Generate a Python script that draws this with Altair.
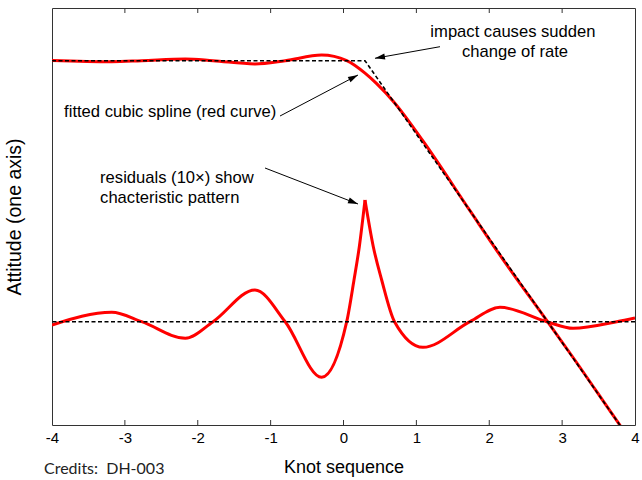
import altair as alt
import pandas as pd

# ---- data ----
# fitted cubic spline (red)
fit_x = [-4.0, -3.18, -2.77, -2.17, -1.79, -1.215, -0.80, -0.30, 0.044, 0.295, 0.455, 0.693, 1.09, 1.735, 2.147, 2.79, 3.15, 3.75, 4.0]
fit_y = [26.13, 26.0, 26.1, 26.27, 26.1, 25.78, 26.1, 26.66, 26.1, 24.85, 23.8, 21.95, 18.08, 11.1, 6.66, 0.1, -3.58, -9.9, -12.5]

# true attitude (dashed, with kink at impact)
true_x = [-4.0, 0.295, 4.0]
true_y = [26.1, 26.1, -12.5]

# residuals x10, left and right of the impact cusp
resL_x = [-4.0, -3.18, -2.77, -2.17, -1.79, -1.215, -0.80, -0.30, 0.044, 0.144, 0.217, 0.295]
resL_y = [-0.33, 0.94, 0.0, -1.66, 0.0, 3.17, 0.0, -5.56, 0.0, 4.17, 7.5, 12.17]
resR_x = [0.295, 0.409, 0.524, 0.70, 1.09, 1.735, 2.147, 2.79, 3.15, 3.75, 4.0]
resR_y = [12.17, 7.5, 4.17, 0.0, -2.56, 0.0, 1.44, 0.0, -0.66, 0.0, 0.38]

tick_vals = [-4, -3, -2, -1, 0, 1, 2, 3, 4]
inner_ticks = [-3, -2, -1, 0, 1, 2, 3]

fit_df = pd.DataFrame({"x": fit_x, "y": fit_y})
true_df = pd.DataFrame({"x": true_x, "y": true_y})
res_df = pd.concat([
    pd.DataFrame({"x": resL_x, "y": resL_y, "seg": "L"}),
    pd.DataFrame({"x": resR_x, "y": resR_y, "seg": "R"}),
])
tick_df = pd.DataFrame({"t": inner_ticks})

# annotations (data coordinates)
arrows = pd.DataFrame({
    "x": [1.324, -0.871, -1.077],
    "y": [27.5, 20.57, 15.37],
    "x2": [0.432, 0.199, 0.199],
    "y2": [26.34, 24.67, 11.77],
    "ang": [169.9, 332.3, 21.2],
})
labels_left = pd.DataFrame({
    "x": [-3.834, -3.340, -3.340],
    "y": [20.97, 14.37, 12.37],
    "txt": ["fitted cubic spline (red curve)", "residuals (10\u00d7) show", "chacteristic pattern"],
})
labels_center = pd.DataFrame({
    "x": [2.325, 2.353],
    "y": [28.97, 26.97],
    "txt": ["impact causes sudden", "change of rate"],
})

FONT = "Liberation Sans"
ANN = 16.6
xs = alt.Scale(domain=[-4, 4], nice=False, zero=False)
ys = alt.Scale(domain=[-10.33, 31.37], nice=False, zero=False)

X = alt.X("x:Q", scale=xs,
          axis=alt.Axis(values=tick_vals,
                        labelExpr="datum.value < 0 ? '-' + abs(datum.value) : '' + datum.value",
                        title="Knot sequence", grid=False, ticks=False,
                        domain=False, labelFontSize=15, labelFont=FONT, labelColor="#000",
                        labelPadding=5, titleFont=FONT, titleFontSize=18,
                        titleFontWeight="normal", titleColor="#000", titlePadding=13,
                        labelFlush=False))
Y = alt.Y("y:Q", scale=ys,
          axis=alt.Axis(title="Attitude (one axis)", labels=False, ticks=False, domain=False,
                        grid=False, titleFont=FONT, titleFontSize=19.5, titleFontWeight="normal",
                        titleColor="#000", titlePadding=28))

fit_line = alt.Chart(fit_df).mark_line(color="#ff0000", strokeWidth=3, interpolate="monotone", clip=True).encode(x=X, y=Y)

res_line = alt.Chart(res_df).mark_line(color="#ff0000", strokeWidth=3, interpolate="monotone", clip=True).encode(
    x=alt.X("x:Q", scale=xs), y=alt.Y("y:Q", scale=ys), detail="seg:N")

true_line = alt.Chart(true_df).mark_line(color="#000", strokeWidth=1.6, strokeDash=[4, 2.5], clip=True).encode(
    x=alt.X("x:Q", scale=xs), y=alt.Y("y:Q", scale=ys))

base_line = alt.Chart(pd.DataFrame({"y": [0.0]})).mark_rule(color="#000", strokeWidth=1.6, strokeDash=[4, 2.5]).encode(
    y=alt.Y("y:Q", scale=ys))

ticks_bottom = alt.Chart(tick_df).mark_rule(color="#333", strokeWidth=1).encode(
    x=alt.X("t:Q", scale=xs), y=alt.value(417), y2=alt.value(412))
ticks_top = alt.Chart(tick_df).mark_rule(color="#333", strokeWidth=1).encode(
    x=alt.X("t:Q", scale=xs), y=alt.value(0), y2=alt.value(5))

arrow_lines = alt.Chart(arrows).mark_rule(color="#000", strokeWidth=1).encode(
    x=alt.X("x:Q", scale=xs), y=alt.Y("y:Q", scale=ys), x2="x2:Q", y2="y2:Q")
arrow_heads = alt.Chart(arrows).mark_point(shape="M0,0 L-2,-0.6 L-2,0.6 Z", filled=True, size=100,
                                           color="#000", opacity=1).encode(
    x=alt.X("x2:Q", scale=xs), y=alt.Y("y2:Q", scale=ys), angle=alt.Angle("ang:Q", scale=None))

txt_left = alt.Chart(labels_left).mark_text(align="left", baseline="middle", font=FONT, fontSize=ANN, color="#000").encode(
    x=alt.X("x:Q", scale=xs), y=alt.Y("y:Q", scale=ys), text="txt:N")
txt_center = alt.Chart(labels_center).mark_text(align="center", baseline="middle", font=FONT, fontSize=ANN, color="#000").encode(
    x=alt.X("x:Q", scale=xs), y=alt.Y("y:Q", scale=ys), text="txt:N")

credits = alt.Chart(pd.DataFrame({"c": ["Credits:\u00a0 DH-003"]})).mark_text(
    align="left", baseline="alphabetic", font="Lato", fontSize=16, color="#222").encode(
    x=alt.value(-8), y=alt.value(466), text="c:N")

chart = alt.layer(
    fit_line, res_line, true_line, base_line, ticks_bottom, ticks_top,
    arrow_lines, arrow_heads, txt_left, txt_center, credits
).properties(
    width=583, height=417,
    padding={"left": 52, "top": 8, "right": 7, "bottom": 55},
    autosize="none",
    background="#ffffff",
).configure_view(stroke="#333", strokeWidth=1)

chart.save("out.html", embed_options={"renderer": "svg", "actions": False})
